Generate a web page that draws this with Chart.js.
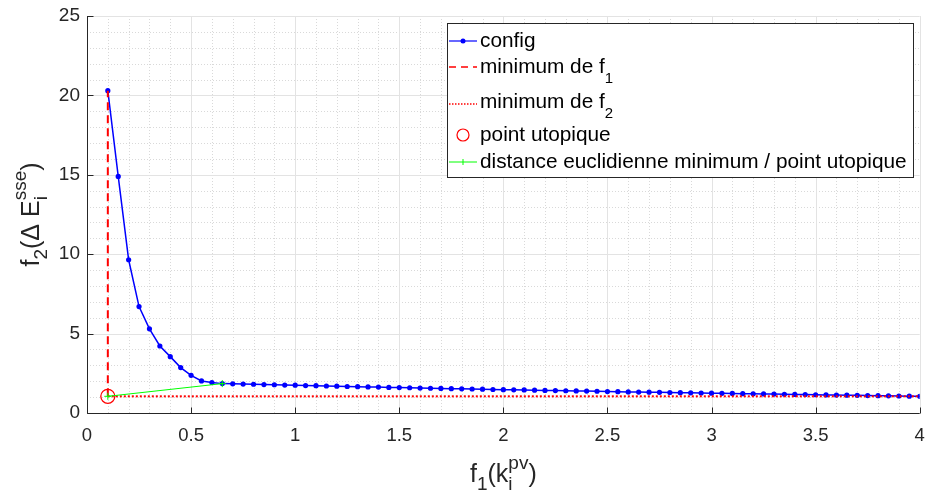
<!DOCTYPE html>
<html>
<head>
<meta charset="utf-8">
<script src="https://cdn.jsdelivr.net/npm/chart.js@4"></script>
<style>
  html, body { margin: 0; padding: 0; background: #fff; }
  #wrap { width: 928px; height: 497px; position: relative; }
</style>
</head>
<body>
<div id="wrap"><canvas id="chartHolder"></canvas></div>
<script>
// f1 values (x) for each configuration
const f1Values = [
  0.10, 0.15, 0.20, 0.25, 0.30, 0.35, 0.40, 0.45, 0.50, 0.55,
  0.60, 0.65, 0.70, 0.75, 0.80, 0.85, 0.90, 0.95, 1.00, 1.05,
  1.10, 1.15, 1.20, 1.25, 1.30, 1.35, 1.40, 1.45, 1.50, 1.55,
  1.60, 1.65, 1.70, 1.75, 1.80, 1.85, 1.90, 1.95, 2.00, 2.05,
  2.10, 2.15, 2.20, 2.25, 2.30, 2.35, 2.40, 2.45, 2.50, 2.55,
  2.60, 2.65, 2.70, 2.75, 2.80, 2.85, 2.90, 2.95, 3.00, 3.05,
  3.10, 3.15, 3.20, 3.25, 3.30, 3.35, 3.40, 3.45, 3.50, 3.55,
  3.60, 3.65, 3.70, 3.75, 3.80, 3.85, 3.90, 3.95, 4.00
];
// f2 values (y)
const f2Values = [
  20.3, 14.9, 9.65, 6.70, 5.30, 4.22, 3.55, 2.86, 2.37, 2.02,
  1.92, 1.85, 1.84, 1.82, 1.81, 1.79, 1.78, 1.76, 1.75, 1.73,
  1.72, 1.70, 1.69, 1.67, 1.66, 1.64, 1.63, 1.61, 1.60, 1.59,
  1.57, 1.56, 1.55, 1.53, 1.52, 1.51, 1.50, 1.48, 1.47, 1.46,
  1.45, 1.44, 1.42, 1.41, 1.40, 1.39, 1.38, 1.37, 1.35, 1.34,
  1.33, 1.32, 1.31, 1.30, 1.29, 1.28, 1.27, 1.26, 1.25, 1.24,
  1.23, 1.22, 1.21, 1.20, 1.19, 1.18, 1.17, 1.16, 1.15, 1.14,
  1.13, 1.12, 1.11, 1.10, 1.09, 1.08, 1.07, 1.06, 1.05
];
const minF1 = 0.10;
const minF2 = 1.05;
const bestPoint = [0.65, 1.85];   // closest config to the utopian point

const xTicks = [0, 0.5, 1, 1.5, 2, 2.5, 3, 3.5, 4];
const yTicks = [0, 5, 10, 15, 20, 25];

const FONT = "'Liberation Sans', Arial, Helvetica, sans-serif";
const TXT = "#262626";

const configData = f1Values.map((x, i) => ({ x: x, y: f2Values[i] }));

// draw text made of pieces (normal, sub)
function richText(ctx, x, y, parts) {
  let cx = x;
  parts.forEach(p => {
    ctx.font = p.size + "px " + FONT;
    ctx.fillText(p.t, cx, y + (p.dy || 0));
    cx += ctx.measureText(p.t).width;
  });
  return cx - x;
}
function richWidth(ctx, parts) {
  let w = 0;
  parts.forEach(p => {
    ctx.font = p.size + "px " + FONT;
    w += ctx.measureText(p.t).width;
  });
  return w;
}
// "head" then a sub/sup stack then ")" - used for both axis titles
function stackedTitle(ctx, cx, base, head, sub, sup, big, small) {
  ctx.font = small + "px " + FONT;
  const stackW = Math.max(ctx.measureText(sub).width, ctx.measureText(sup).width);
  ctx.font = big + "px " + FONT;
  const closeW = ctx.measureText(")").width;
  const total = richWidth(ctx, head) + stackW + closeW;
  const x0 = cx - total / 2;
  const w1 = richText(ctx, x0, base, head);
  ctx.font = small + "px " + FONT;
  ctx.fillText(sub, x0 + w1, base + 8);
  ctx.fillText(sup, x0 + w1, base - 13);
  ctx.font = big + "px " + FONT;
  ctx.fillText(")", x0 + w1 + stackW, base);
}

const matlabLook = {
  id: "matlabLook",
  beforeDatasetsDraw(chart) {
    const ctx = chart.ctx, a = chart.chartArea;
    const xs = chart.scales.x, ys = chart.scales.y;
    ctx.save();
    // minor grid (dotted)
    ctx.strokeStyle = "#d9d9d9";
    ctx.lineWidth = 1;
    ctx.setLineDash([1, 2]);
    for (let k = 1; k < 40; k++) {
      if (k % 5 === 0) continue;
      const px = Math.round(xs.getPixelForValue(k / 10)) + 0.5;
      ctx.beginPath(); ctx.moveTo(px, a.top); ctx.lineTo(px, a.bottom); ctx.stroke();
    }
    for (let k = 1; k < 25; k++) {
      if (k % 5 === 0) continue;
      const py = Math.round(ys.getPixelForValue(k)) + 0.5;
      ctx.beginPath(); ctx.moveTo(a.left, py); ctx.lineTo(a.right, py); ctx.stroke();
    }
    // major grid
    ctx.setLineDash([]);
    ctx.strokeStyle = "#e3e3e3";
    xTicks.forEach(v => {
      const px = Math.round(xs.getPixelForValue(v)) + 0.5;
      ctx.beginPath(); ctx.moveTo(px, a.top); ctx.lineTo(px, a.bottom); ctx.stroke();
    });
    yTicks.forEach(v => {
      const py = Math.round(ys.getPixelForValue(v)) + 0.5;
      ctx.beginPath(); ctx.moveTo(a.left, py); ctx.lineTo(a.right, py); ctx.stroke();
    });
    ctx.restore();
  },
  afterDatasetsDraw(chart) {
    const ctx = chart.ctx, a = chart.chartArea;
    const xs = chart.scales.x, ys = chart.scales.y;
    ctx.save();
    ctx.strokeStyle = TXT;
    ctx.lineWidth = 1;
    const L = Math.round(a.left) + 0.5, B = Math.round(a.bottom) + 0.5;
    ctx.beginPath(); ctx.moveTo(L, a.top); ctx.lineTo(L, B); ctx.lineTo(a.right, B); ctx.stroke();
    xTicks.forEach(v => {
      const px = Math.round(xs.getPixelForValue(v)) + 0.5;
      ctx.beginPath(); ctx.moveTo(px, B); ctx.lineTo(px, B - 6); ctx.stroke();
    });
    yTicks.forEach(v => {
      const py = Math.round(ys.getPixelForValue(v)) + 0.5;
      ctx.beginPath(); ctx.moveTo(L, py); ctx.lineTo(L + 6, py); ctx.stroke();
    });
    ctx.restore();
  },
  afterDraw(chart) {
    const ctx = chart.ctx, a = chart.chartArea;
    ctx.save();
    ctx.fillStyle = TXT;
    ctx.textBaseline = "alphabetic";
    ctx.textAlign = "left";

    // x axis title: f1(k_i^pv)
    stackedTitle(ctx, (a.left + a.right) / 2, 482,
      [{ t: "f", size: 25 }, { t: "1", size: 19, dy: 8 }, { t: "(k", size: 25 }],
      "i", "pv", 25, 19);

    // y axis title: f2(Δ E_i^sse), rotated
    ctx.save();
    ctx.translate(39, (a.top + a.bottom) / 2);
    ctx.rotate(-Math.PI / 2);
    stackedTitle(ctx, 0, 0,
      [{ t: "f", size: 25 }, { t: "2", size: 19, dy: 8 }, { t: "(Δ E", size: 25 }],
      "i", "sse", 25, 19);
    ctx.restore();

    // legend box
    const bx = 447.5, by = 23.5, bw = 466, bh = 154;
    ctx.fillStyle = "#ffffff";
    ctx.fillRect(bx, by, bw, bh);
    ctx.strokeStyle = TXT;
    ctx.lineWidth = 1;
    ctx.strokeRect(bx, by, bw, bh);

    const sx0 = 449, sx1 = 477, tx = 480;
    // config
    let y = 41;
    ctx.strokeStyle = "#0000ff"; ctx.lineWidth = 1.2;
    ctx.beginPath(); ctx.moveTo(sx0, y); ctx.lineTo(sx1, y); ctx.stroke();
    ctx.fillStyle = "#0000ff";
    ctx.beginPath(); ctx.arc(463, y, 2.5, 0, Math.PI * 2); ctx.fill();
    // min f1
    y = 67;
    ctx.strokeStyle = "#ff0000"; ctx.lineWidth = 1.5; ctx.setLineDash([7, 5]);
    ctx.beginPath(); ctx.moveTo(sx0, y); ctx.lineTo(sx1, y); ctx.stroke();
    // min f2
    y = 104;
    ctx.setLineDash([1.5, 1.5]);
    ctx.beginPath(); ctx.moveTo(sx0, y); ctx.lineTo(sx1, y); ctx.stroke();
    ctx.setLineDash([]);
    // point utopique
    y = 135;
    ctx.lineWidth = 1.2;
    ctx.beginPath(); ctx.arc(463, y, 6, 0, Math.PI * 2); ctx.stroke();
    // distance
    y = 162;
    ctx.strokeStyle = "#00ff00"; ctx.lineWidth = 1;
    ctx.beginPath(); ctx.moveTo(sx0, y); ctx.lineTo(sx1, y); ctx.stroke();
    ctx.beginPath(); ctx.moveTo(463, y - 3); ctx.lineTo(463, y + 3); ctx.stroke();

    ctx.fillStyle = "#000000";
    const LS = 20.8;
    richText(ctx, tx, 47, [{ t: "config", size: LS }]);
    richText(ctx, tx, 73, [{ t: "minimum de f", size: LS }, { t: "1", size: 15, dy: 10 }]);
    richText(ctx, tx, 108, [{ t: "minimum de f", size: LS }, { t: "2", size: 15, dy: 10 }]);
    richText(ctx, tx, 141, [{ t: "point utopique", size: LS }]);
    richText(ctx, tx, 168, [{ t: "distance euclidienne minimum / point utopique", size: LS }]);
    ctx.restore();
  }
};

new Chart(document.getElementById("chartHolder"), {
  type: "scatter",
  data: {
    datasets: [
      {
        label: "config",
        data: configData,
        showLine: true,
        borderColor: "#0000ff",
        backgroundColor: "#0000ff",
        borderWidth: 1.5,
        pointRadius: 2.6,
        pointBorderWidth: 0,
        order: 5
      },
      {
        label: "minimum de f1",
        data: [{ x: minF1, y: minF2 }, { x: minF1, y: f2Values[0] }],
        showLine: true,
        borderColor: "#ff0000",
        borderWidth: 2,
        borderDash: [8, 5],
        pointRadius: 0,
        order: 4
      },
      {
        label: "minimum de f2",
        data: [{ x: minF1, y: minF2 }, { x: f1Values[f1Values.length - 1], y: minF2 }],
        showLine: true,
        borderColor: "#ff0000",
        borderWidth: 2,
        borderDash: [2, 2],
        pointRadius: 0,
        order: 3
      },
      {
        label: "point utopique",
        data: [{ x: minF1, y: minF2 }],
        showLine: false,
        borderColor: "#ff0000",
        backgroundColor: "rgba(0,0,0,0)",
        borderWidth: 1.3,
        pointRadius: 7,
        order: 2
      },
      {
        label: "distance euclidienne minimum / point utopique",
        data: [{ x: minF1, y: minF2 }, { x: bestPoint[0], y: bestPoint[1] }],
        showLine: true,
        borderColor: "#00ff00",
        backgroundColor: "#00ff00",
        borderWidth: 1,
        pointStyle: "cross",
        pointRadius: 3.5,
        pointBorderWidth: 1,
        order: 1
      }
    ]
  },
  options: {
    responsive: true,
    maintainAspectRatio: false,
    animation: false,
    layout: { padding: { top: 16, right: 7, left: 0, bottom: 0 } },
    plugins: {
      legend: { display: false },
      tooltip: { enabled: false },
      title: { display: false }
    },
    scales: {
      x: {
        type: "linear",
        min: 0,
        max: 4,
        afterBuildTicks: s => { s.ticks = xTicks.map(v => ({ value: v })); },
        afterFit: s => { s.height = 84; s.paddingLeft = 0; s.paddingRight = 0; },
        grid: { display: false, drawTicks: false },
        border: { display: false },
        ticks: {
          color: TXT,
          font: { family: FONT, size: 18.5 },
          padding: 12,
          maxRotation: 0,
          callback: v => String(v)
        }
      },
      y: {
        type: "linear",
        min: 0,
        max: 25,
        afterBuildTicks: s => { s.ticks = yTicks.map(v => ({ value: v })); },
        afterFit: s => { s.width = 87; s.paddingTop = 0; s.paddingBottom = 0; },
        grid: { display: false, drawTicks: false },
        border: { display: false },
        ticks: {
          color: TXT,
          font: { family: FONT, size: 19 },
          padding: 7,
          callback: v => String(v)
        }
      }
    }
  },
  plugins: [matlabLook]
});
</script>
</body>
</html>
